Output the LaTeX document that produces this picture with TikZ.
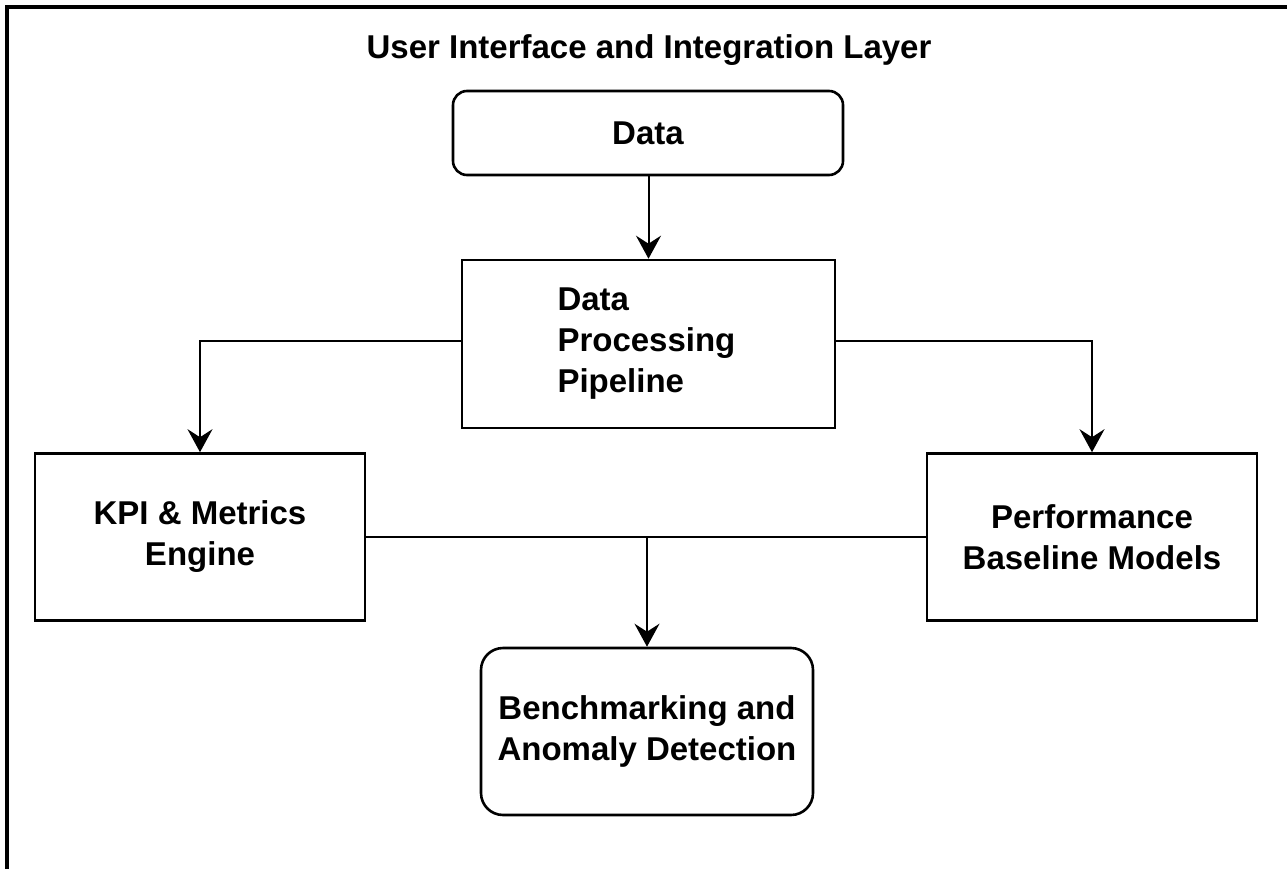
\documentclass[tikz,border=0pt]{standalone}
\usepackage{fontspec}
\setmainfont{Liberation Sans}
\usepackage{tikz}
\usetikzlibrary{arrows.meta}

\begin{document}
\begin{tikzpicture}[x=1pt, y=-1pt,
    font=\bfseries\fontsize{33}{41}\selectfont,
    box/.style={draw, rectangle, line width=2.6pt, inner sep=0pt, align=center},
    roundbox/.style={box, rounded corners=14pt},
    link/.style={line width=2pt, -{Stealth[length=23pt, width=25pt, inset=8pt]}}]
\useasboundingbox (0,0) rectangle (1287,869);

% outer frame
\draw[line width=3.5pt] (7,880) -- (7,7) -- (1300,7);

\node (title) at (649,50) {User Interface and Integration Layer};

\node[roundbox, minimum width=390pt, minimum height=84pt] (data) at (648,133) {Data};

\node[box, minimum width=373pt, minimum height=168pt, text width=182pt, align=left] (dpp) at (648.5,344) {Data\\Processing\\Pipeline};

\node[box, minimum width=330pt, minimum height=167pt] (kpi) at (200,537) {KPI \& Metrics\\Engine};
\node[box, minimum width=330pt, minimum height=167pt] (perf) at (1092,537) {Performance\\Baseline Models};

\node[roundbox, rounded corners=22pt, minimum width=332pt, minimum height=167pt] (bench) at (647,731.5) {Benchmarking and\\Anomaly Detection};

\draw[link] (data) -- (dpp.north |- data.south) -- (dpp.north);
\draw[link] (dpp.west |- 0,341) -| (kpi.north);
\draw[link] (dpp.east |- 0,341) -| (perf.north);
\draw[line width=2pt] (kpi.east) -- (perf.west);
\draw[link] (bench.north |- kpi.east) -- (bench.north);
\end{tikzpicture}
\end{document}
